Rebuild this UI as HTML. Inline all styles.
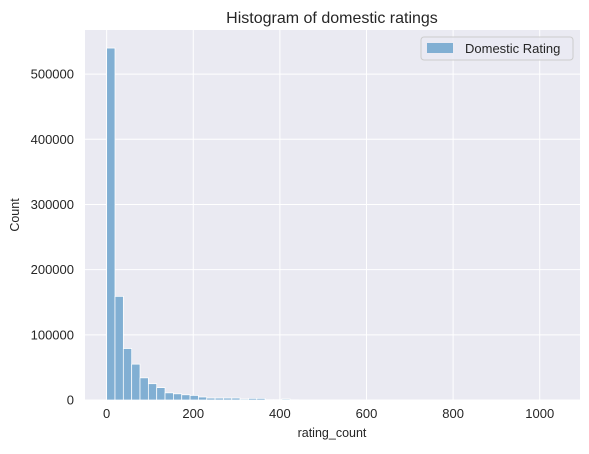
<!DOCTYPE html>
<html><head><meta charset="utf-8"><style>
body{margin:0;background:#fff;font-family:"Liberation Sans",sans-serif;}
svg text{font-family:"Liberation Sans",sans-serif;fill:#262626;}
</style></head><body>
<svg id="chart" width="589" height="449">
<rect x="85" y="30" width="495" height="370" fill="#eaeaf2"/>
<g id="grid"></g><g id="bars"></g><g id="ticks"></g>
<text x="332" y="23" text-anchor="middle" font-size="16">Histogram of domestic ratings</text>
<text x="332" y="437" text-anchor="middle" font-size="12.5">rating_count</text>
<text transform="translate(19,215) rotate(-90)" text-anchor="middle" font-size="12.5">Count</text>
<g>
<rect x="421" y="37" width="152" height="23" rx="3" fill="#eaeaf2" fill-opacity="0.8" stroke="#cccccc" stroke-width="1"/>
<rect x="427" y="43" width="26" height="10" fill="#81afd3"/>
<text x="465" y="53" font-size="13">Domestic Rating</text>
</g>
</svg>
<script>
const binWidth = 19.26;
const counts = [540000,159000,79000,55000,34000,25000,19000,11000,9500,8000,7000,4600,3000,3000,3000,3000,1500,2500,2500,500,500,1500,300,200,200,100,100,100,50,50,50,50,30,30,30,30,20,20,20,20,10,10,10,10,10,10,5,5,5,5,5,5,5,5];
const xTicks = [0,200,400,600,800,1000];
const yTicks = [0,100000,200000,300000,400000,500000];
const L=85,R=580,T=30,B=400;
const xMin=-50,xMax=1093,yMax=567700;
const xs=v=>L+(v-xMin)/(xMax-xMin)*(R-L);
const ys=v=>B-v/yMax*(B-T);
const NS="http://www.w3.org/2000/svg";
const grid=document.getElementById('grid'),bars=document.getElementById('bars'),ticks=document.getElementById('ticks');
function mk(tag,attrs,parent){const e=document.createElementNS(NS,tag);for(const k in attrs)e.setAttribute(k,attrs[k]);parent.appendChild(e);return e;}
xTicks.forEach(t=>{
 const g=mk('line',{x1:xs(t),x2:xs(t),y1:T,y2:B,stroke:'#fff','stroke-width':1},grid);
 
 
 const l=mk('text',{x:xs(t),y:B+18,'text-anchor':'middle','font-size':13},ticks);
 l.textContent=t;
 
 
});
yTicks.forEach(t=>{
 const g=mk('line',{x1:L,x2:R,y1:ys(t),y2:ys(t),stroke:'#fff','stroke-width':1},grid);
 
 
 const l=mk('text',{x:L-11,y:ys(t)+4.5,'text-anchor':'end','font-size':13},ticks);
 l.textContent=t;
 
 
});
counts.forEach((c,i)=>{
 const x0=xs(i*binWidth),x1=xs((i+1)*binWidth);
 const r=mk('rect',{x:x0,y:ys(c),width:x1-x0,height:ys(0)-ys(c),fill:'#81afd3',stroke:'#fff','stroke-width':0.75},bars);
 
 
});
</script>
</body></html>
